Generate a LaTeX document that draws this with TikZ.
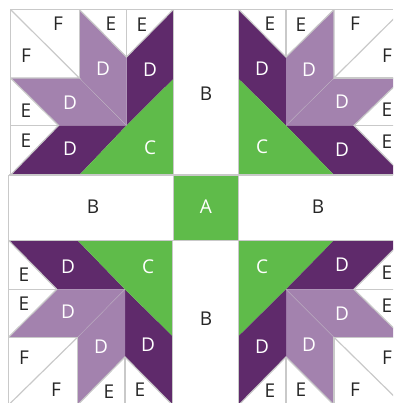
\documentclass[tikz,border=0pt]{standalone}
\usepackage{fontspec}
\setmainfont{Open Sans}
\definecolor{darkp}{HTML}{5F2A6B}
\definecolor{lightp}{HTML}{A382AE}
\definecolor{grn}{HTML}{5FBB4A}
\definecolor{seam}{HTML}{C9C9C9}
\tikzset{
  seamline/.style={draw=seam,line width=1.2pt},
  fine/.style={draw=seam!70!lightp,line width=0.3pt},
  dk/.style={fill=darkp},
  lt/.style={fill=lightp},
  gr/.style={fill=grn},
  wlab/.style={text=white,font=\fontsize{19}{19}\selectfont,inner sep=0pt},
  blab/.style={text=black!85,font=\fontsize{19}{19}\selectfont,inner sep=0pt}
}
\begin{document}
\begin{tikzpicture}[x=1pt,y=-1pt]
\useasboundingbox (0,0) rectangle (393,403);
\clip (0,0) rectangle (393,403);
% top-left
\fill[dk] (10.5,175)--(58.5,125.5)--(126.5,125.5)--(79.3,175)--cycle;
\fill[dk] (173.3,9.5)--(126.5,57)--(126.5,125.5)--(173.3,79)--cycle;
\fill[lt] (79.3,9.5)--(126.5,57)--(126.5,125.5)--(79.3,78)--cycle;
\fill[lt] (10.5,78)--(79.3,78)--(126.5,125.5)--(58.5,125.5)--cycle;
\fill[gr] (126.5,125.5)--(173.3,79)--(173.3,175)--(79.3,175)--cycle;
\draw[fine] (79.3,78)--(126.5,125.5);
% top-right
\fill[dk] (238.7,9.5)--(286,57)--(286,125.5)--(238.7,79)--cycle;
\fill[dk] (286,125.5)--(354,125.5)--(403,175)--(334,175)--cycle;
\fill[lt] (334,9.5)--(334,78)--(286,125.5)--(286,57)--cycle;
\fill[lt] (334,78)--(403,78)--(354,125.5)--(286,125.5)--cycle;
\fill[gr] (238.7,79)--(286,125.5)--(334,175)--(238.7,175)--cycle;
\draw[fine] (334,78)--(286,125.5);
% bottom-left
\fill[dk] (8.5,240.3)--(77.5,240.3)--(125,289.3)--(56.7,289.3)--cycle;
\fill[dk] (125,289.3)--(172.5,336)--(172.5,405)--(125,357)--cycle;
\fill[lt] (56.7,289.3)--(125,289.3)--(77.5,337.3)--(8.5,337.3)--cycle;
\fill[lt] (125,289.3)--(125,357)--(77.5,405)--(77.5,337.3)--cycle;
\fill[gr] (77.5,240.3)--(172.5,240.3)--(172.5,336)--(125,289.3)--cycle;
\draw[fine] (77.5,337.3)--(125,289.3);
% bottom-right
\fill[gr] (238.7,240.3)--(334,240.3)--(286,289.3)--(238.7,336)--cycle;
\fill[dk] (334,240.3)--(403,240.3)--(354,289.3)--(286,289.3)--cycle;
\fill[lt] (286,289.3)--(354,289.3)--(403,337.3)--(334,337.3)--cycle;
\fill[lt] (286,289.3)--(334,337.3)--(334,405)--(286,357)--cycle;
\fill[dk] (286,289.3)--(286,357)--(238.7,405)--(238.7,336)--cycle;
\draw[fine] (286,289.3)--(334,337.3);
% centre square
\fill[gr] (173.3,175) rectangle (238.7,240.3);
% seams: top-left
\draw[seamline] (10.5,175)--(10.5,9.5)--(393,9.5);
\draw[seamline] (10.5,9.5)--(79.3,78)--(10.5,78);
\draw[seamline] (79.3,9.5)--(79.3,78);
\draw[seamline] (79.3,9.5)--(126.5,57)--(173.3,9.5);
\draw[seamline] (126.5,9.5)--(126.5,57);
\draw[seamline] (10.5,78)--(58.5,125.5)--(10.5,175);
\draw[seamline] (10.5,125.5)--(58.5,125.5);
% seams: top-right
\draw[seamline] (238.7,9.5)--(286,57)--(334,9.5);
\draw[seamline] (286,9.5)--(286,57);
\draw[seamline] (403,9.5)--(334,78)--(334,9.5);
\draw[seamline] (334,78)--(403,78);
\draw[seamline] (403,78)--(354,125.5)--(403,175);
\draw[seamline] (354,125.5)--(403,125.5);
% seams: bottom-left
\draw[seamline] (8.5,240.3)--(56.7,289.3)--(8.5,337.3);
\draw[seamline] (8.5,289.3)--(56.7,289.3);
\draw[seamline] (8.5,337.3)--(77.5,337.3)--(77.5,405);
\draw[seamline] (77.5,337.3)--(8.5,405);
\draw[seamline] (77.5,405)--(125,357)--(172.5,405);
\draw[seamline] (125,357)--(125,405);
\draw[seamline] (8.5,175)--(8.5,405);
% seams: bottom-right
\draw[seamline] (403,240.3)--(354,289.3)--(403,337.3);
\draw[seamline] (354,289.3)--(403,289.3);
\draw[seamline] (403,337.3)--(334,337.3)--(334,405);
\draw[seamline] (334,337.3)--(403,405);
\draw[seamline] (334,405)--(286,357)--(238.7,405);
\draw[seamline] (286,357)--(286,405);
% seams: cross
\draw[seamline] (8.5,175)--(393,175);
\draw[seamline] (8.5,240.3)--(393,240.3);
\draw[seamline] (173.3,9.5)--(173.3,240.3);
\draw[seamline] (172.5,240.3)--(172.5,403);
\draw[seamline] (238.7,9.5)--(238.7,403);
% labels
\node[blab] (f1) at (58,24) {F};
\node[blab] (f2) at (26,56) {F};
\node[blab] (e1) at (111,24) {E};
\node[blab] (e2) at (142,25) {E};
\node[wlab] (d1) at (103,69) {D};
\node[wlab] (d2) at (150,70) {D};
\node[wlab] (d3) at (70,103) {D};
\node[blab] (e3) at (26,111) {E};
\node[blab] (e4) at (26,141) {E};
\node[wlab] (d4) at (70,149) {D};
\node[wlab] (c1) at (150,148) {C};
\node[blab] (b1) at (206,94) {B};
\node[wlab] (a) at (206,207) {A};
\node[blab] (b2) at (93,207) {B};
\node[blab] (b3) at (318,207) {B};
\node[blab] (b4) at (206,319) {B};
\node[blab] (e5) at (270,24) {E};
\node[blab] (e6) at (301,25) {E};
\node[blab] (f3) at (355,24) {F};
\node[blab] (f4) at (387,56) {F};
\node[wlab] (d5) at (262,69) {D};
\node[wlab] (d6) at (309,70) {D};
\node[wlab] (d7) at (342,102) {D};
\node[blab] (e7) at (387,110) {E};
\node[blab] (e8) at (387,142) {E};
\node[wlab] (d8) at (342,150) {D};
\node[wlab] (c2) at (262,147) {C};
\node[wlab] (d9) at (68,267) {D};
\node[wlab] (c3) at (148,267) {C};
\node[blab] (e9) at (24,275) {E};
\node[blab] (e10) at (24,304) {E};
\node[wlab] (d10) at (68,312) {D};
\node[wlab] (d11) at (101,347) {D};
\node[wlab] (d12) at (148,345) {D};
\node[blab] (f5) at (24,358) {F};
\node[blab] (f6) at (56,390) {F};
\node[blab] (e11) at (109,392) {E};
\node[blab] (e12) at (140,390) {E};
\node[wlab] (c4) at (262,267) {C};
\node[wlab] (d13) at (342,265) {D};
\node[blab] (e13) at (387,273) {E};
\node[blab] (e14) at (387,306) {E};
\node[wlab] (d14) at (342,314) {D};
\node[wlab] (d15) at (262,347) {D};
\node[wlab] (d16) at (309,345) {D};
\node[blab] (e15) at (270,391) {E};
\node[blab] (e16) at (301,390) {E};
\node[blab] (f7) at (355,390) {F};
\node[blab] (f8) at (387,358) {F};
\end{tikzpicture}
\end{document}
